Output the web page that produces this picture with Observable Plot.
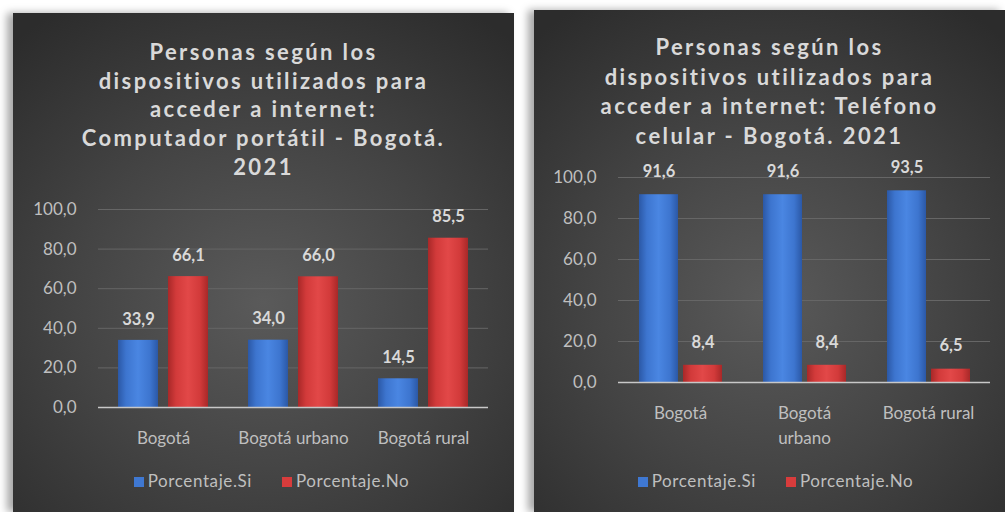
<!DOCTYPE html>
<html><head><meta charset="utf-8">
<script src="https://cdn.jsdelivr.net/npm/d3@7"></script>
<script src="https://cdn.jsdelivr.net/npm/@observablehq/plot@0.6"></script>
<style>
html,body{margin:0;padding:0;background:#fff;}
body{width:1005px;height:512px;overflow:hidden;position:relative;font-family:Lato,"Open Sans",sans-serif;}
.panel{position:absolute;overflow:hidden;background:radial-gradient(ellipse 75% 70% at 50% 58%, #5a5a5a 0%, #444 50%, #2c2c2c 100%);}
#p1{left:13px;top:13px;width:501px;height:499px;box-shadow:-6px 0 8px rgba(0,0,0,0.35);}
#p2{left:534px;top:10px;width:471px;height:502px;box-shadow:-6px 0 8px rgba(0,0,0,0.35);}
.title{position:absolute;left:0;right:0;text-align:center;color:#d9d9d9;font-weight:bold;font-size:22px;letter-spacing:2.4px;}
#p1 .title{top:25px;line-height:28.7px;}
#p2 .title{top:22px;line-height:29.7px;}
.chart{position:absolute;left:0;}
#p1 .chart{top:177px;}
#p2 .chart{top:140px;}
.legend{position:absolute;left:0;right:0;display:flex;justify-content:center;align-items:center;gap:30px;color:#bfbfbf;font-size:17px;letter-spacing:0.6px;}
#p1 .legend{top:457px;padding-left:16px;}
#p2 .legend{top:460px;padding-left:12px;}
.legend span.sw{display:inline-block;width:10px;height:10px;margin-right:4px;vertical-align:middle;position:relative;top:-1px;}
</style></head>
<body>
<svg width="0" height="0" style="position:absolute">
  <defs>
    <linearGradient id="gb" x1="0" x2="1" y1="0" y2="0">
      <stop offset="0" stop-color="#2b58a6"/>
      <stop offset="0.2" stop-color="#3d75cf"/>
      <stop offset="0.5" stop-color="#4a86e2"/>
      <stop offset="0.8" stop-color="#3d75cf"/>
      <stop offset="1" stop-color="#2b58a6"/>
    </linearGradient>
    <linearGradient id="gr" x1="0" x2="1" y1="0" y2="0">
      <stop offset="0" stop-color="#a82828"/>
      <stop offset="0.2" stop-color="#d23a3a"/>
      <stop offset="0.5" stop-color="#e24848"/>
      <stop offset="0.8" stop-color="#d23a3a"/>
      <stop offset="1" stop-color="#a82828"/>
    </linearGradient>
  </defs>
</svg>
<div class="panel" id="p1">
  <div class="title">Personas según los<br>dispositivos utilizados para<br>acceder a internet:<br>Computador portátil - Bogotá.<br>2021</div>
  <div class="chart" id="c1"></div>
  <div class="legend" id="l1"></div>
</div>
<div class="panel" id="p2">
  <div class="title">Personas según los<br>dispositivos utilizados para<br>acceder a internet: Teléfono<br>celular - Bogotá. 2021</div>
  <div class="chart" id="c2"></div>
  <div class="legend" id="l2"></div>
</div>
<script>
const categories = ["Bogotá", "Bogotá urbano", "Bogotá rural"];
const series = ["Porcentaje.Si", "Porcentaje.No"];
const portatilSi = [33.9, 34.0, 14.5];
const portatilNo = [66.1, 66.0, 85.5];
const celularSi = [91.6, 91.6, 93.5];
const celularNo = [8.4, 8.4, 6.5];
const yTicks = [0, 20, 40, 60, 80, 100];
const seriesFill = ["url(#gb)", "url(#gr)"];
const legendColors = ["#3f78d2", "#d83c3c"];

const fmt = v => d3.format(".1f")(v).replace(".", ",");

function rows(si, no) {
  const out = [];
  categories.forEach((c, i) => {
    out.push({cat: c, serie: series[0], value: si[i]});
    out.push({cat: c, serie: series[1], value: no[i]});
  });
  return out;
}

function chart(o) {
  return Plot.plot({
    width: o.width, height: o.height,
    marginTop: o.mt, marginBottom: o.mb, marginLeft: o.ml, marginRight: o.mr,
    style: {background: "transparent", color: "#bfbfbf", fontSize: "17px", fontFamily: "Lato, 'Open Sans', sans-serif", overflow: "visible"},
    fx: {domain: categories, padding: 0, label: null},
    x: {domain: series, paddingInner: o.pi, paddingOuter: o.po, axis: null},
    y: {domain: [0, 100], label: null},
    color: {domain: series, range: seriesFill},
    marks: [
      Plot.gridY(yTicks.filter(t => t > 0), {stroke: "#666", strokeOpacity: 1, strokeWidth: 1}),
      Plot.axisY(yTicks, {tickSize: 0, tickPadding: 22, tickFormat: fmt, label: null, fill: "#bfbfbf", fontSize: 17}),
      Plot.axisFx({anchor: "bottom", tickSize: 0, tickPadding: 19, label: null, fill: "#bfbfbf", tickFormat: o.fxFormat, lineHeight: 1.45, fontSize: 17}),
      Plot.barY(o.data, {fx: "cat", x: "serie", y: "value", fill: "serie"}),
      Plot.text(o.data, {fx: "cat", x: "serie", y: "value", text: d => fmt(d.value), dy: -o.ldy, fill: "#d9d9d9", fontWeight: "bold", fontSize: 16.5}),
      Plot.ruleY([0], {stroke: "#c8c8c8", strokeWidth: 1.5})
    ]
  });
}

document.getElementById("c1").append(chart({
  data: rows(portatilSi, portatilNo), width: 501, height: 265,
  mt: 19, mb: 48, ml: 84, mr: 26, pi: 0.2, po: 0.4, ldy: 21,
  fxFormat: d => d
}));
document.getElementById("c2").append(chart({
  data: rows(celularSi, celularNo), width: 471, height: 310,
  mt: 27, mb: 78, ml: 84, mr: 15, pi: 0.12, po: 0.44, ldy: 23,
  fxFormat: d => d === "Bogotá urbano" ? "Bogotá\nurbano" : d
}));

function legend(id) {
  const el = document.getElementById(id);
  series.forEach((s, i) => {
    const item = document.createElement("div");
    item.innerHTML = `<span class="sw" style="background:${legendColors[i]}"></span>${s}`;
    el.append(item);
  });
}
legend("l1"); legend("l2");
</script>
</body></html>
